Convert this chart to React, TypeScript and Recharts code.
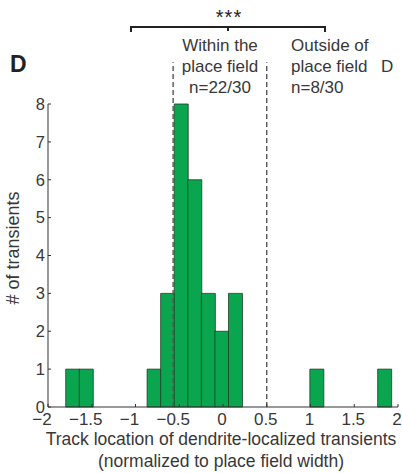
import React from 'react';
import { BarChart, Bar, XAxis, YAxis, ReferenceLine } from 'recharts';

// histogram bins (centres) and counts
const binCenters = [-1.72, -1.565, -0.79, -0.635, -0.48, -0.325, -0.17, -0.015, 0.14, 1.07, 1.845];
const counts = [1, 1, 1, 3, 8, 6, 3, 2, 3, 1, 1];
const xTicks = [-2, -1.5, -1, -0.5, 0, 0.5, 1, 1.5, 2];
const yTicks = [0, 1, 2, 3, 4, 5, 6, 7, 8];
const fieldEdges = [-0.57, 0.5];
const insideLines = ['Within the', 'place field', 'n=22/30'];
const outsideLines = ['Outside of', 'place field', 'n=8/30'];

const data = binCenters.map((x, i) => ({ x, count: counts[i] }));

const FONT = '"Liberation Sans", Arial, sans-serif';
const TEXT = '#383838';

const XTick = (props: any) => {
  const { x, y, payload } = props;
  const v = payload.value as number;
  const label = String(v).replace('-', '\u2212');
  return (
    <text x={x + (v < 0 ? -6 : -1)} y={y + 1} dy="0.71em" textAnchor="middle"
      fontSize={17} fill={TEXT} fontFamily={FONT}>
      {label}
    </text>
  );
};

const YTick = (props: any) => {
  const { x, y, payload } = props;
  return (
    <text x={x} y={y} dy="0.355em" textAnchor="end" fontSize={16.5} fill={TEXT} fontFamily={FONT}>
      {payload.value}
    </text>
  );
};

const App: React.FC = () => {
  return (
    <div style={{ position: 'relative', width: 402, height: 473, background: '#fff' }}>
      <style>{'body{margin:0}'}</style>
      <BarChart
        width={402}
        height={473}
        data={data}
        margin={{ top: 104, right: 4, left: 18, bottom: 36 }}
        barCategoryGap={0}
        barGap={0}
      >
        <XAxis
          type="number"
          dataKey="x"
          domain={[-2, 2]}
          ticks={xTicks}
          allowDataOverflow
          height={30}
          stroke="#333"
          tickSize={-3}
          tickMargin={8}
          tick={<XTick />}
        />
        <YAxis
          type="number"
          domain={[0, 8]}
          ticks={yTicks}
          width={30}
          stroke="#333"
          tickSize={-3}
          tickMargin={6}
          tick={<YTick />}
        />
        <Bar dataKey="count" fill="#0aa64f" stroke="#1f3d26" strokeWidth={0.8} isAnimationActive={false} />
        {fieldEdges.map((e) => (
          <ReferenceLine
            key={e}
            segment={[{ x: e, y: 0 }, { x: e, y: 9.1 }]}
            ifOverflow="visible"
            stroke="#555"
            strokeWidth={1.4}
            strokeDasharray="5 3"
          />
        ))}
      </BarChart>
      <svg width={402} height={473} style={{ position: 'absolute', left: 0, top: 0, pointerEvents: 'none' }}
        fontFamily={FONT}>
        <text x={10} y={72} fontSize={23} fontWeight="bold" fill="#222">D</text>
        <text x={381} y={72} fontSize={17} fill={TEXT}>D</text>
        <text x={229} y={24} fontSize={20} textAnchor="middle" fill="#222" letterSpacing={1}>***</text>
        <path d="M131,32 V27 H325 V32 M228,27 V31" stroke="#222" strokeWidth={2} fill="none" />
        {insideLines.map((t, i) => (
          <text key={t} x={220} y={51 + i * 21} fontSize={17} textAnchor="middle" fill={TEXT}>{t}</text>
        ))}
        {outsideLines.map((t, i) => (
          <text key={t} x={291} y={51 + i * 21} fontSize={17} fill={TEXT}>{t}</text>
        ))}
        <text x={221} y={445} fontSize={17.5} textAnchor="middle" fill={TEXT}>
          Track location of dendrite-localized transients
        </text>
        <text x={221} y={467} fontSize={17.5} textAnchor="middle" fill={TEXT}>
          (normalized to place field width)
        </text>
        <text transform="translate(19,248) rotate(-90)" fontSize={18} textAnchor="middle" fill={TEXT}>
          # of transients
        </text>
      </svg>
    </div>
  );
};

export default App;
